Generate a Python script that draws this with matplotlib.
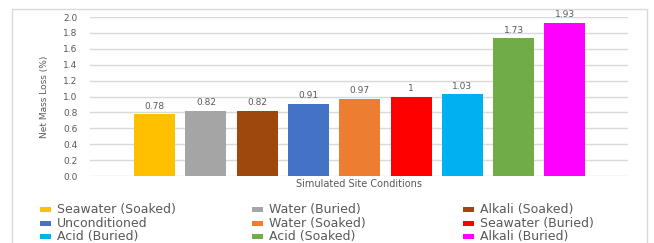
import numpy
import matplotlib
matplotlib.use("Agg")
from matplotlib import pyplot
from matplotlib.patches import Rectangle

# -----------------------------------------------------------------------------
conditions = ["Seawater (Soaked)", "Water (Buried)", "Alkali (Soaked)",
              "Unconditioned", "Water (Soaked)", "Seawater (Buried)",
              "Acid (Buried)", "Acid (Soaked)", "Alkali (Buried)"]
mass_loss = [0.78, 0.82, 0.82, 0.91, 0.97, 1.0, 1.03, 1.73, 1.93]
colors = ["#FFC000", "#A5A5A5", "#9E480E", "#4472C4", "#ED7D31",
          "#FF0000", "#00B0F0", "#70AD47", "#FF00FF"]
yticks = [0.0, 0.2, 0.4, 0.6, 0.8, 1.0, 1.2, 1.4, 1.6, 1.8, 2.0]

grey = "#595959"
fig = pyplot.figure(figsize=(6.54, 2.43), dpi=100, facecolor="w")

# outer chart border (continues below the crop)
fig.patches.append(Rectangle((0.0183, -0.2), 0.971, 1.163, transform=fig.transFigure,
                             fill=False, edgecolor="#D9D9D9", linewidth=1.0))

ax = fig.add_axes([0.1376, 0.2757, 0.8226, 0.6543])
x = numpy.arange(len(mass_loss))
bars = ax.bar(x, mass_loss, width=0.8, color=colors, zorder=2)
ax.bar_label(bars, labels=["%g" % v for v in mass_loss], padding=2.5,
             fontsize=6.5, color=grey)

ax.set_xlim(-1.26, 9.23)
ax.set_ylim(0, 2.0)
ax.set_yticks(yticks)
ax.set_yticklabels(["%.1f" % t for t in yticks])
ax.set_xticks([])
ax.grid(axis="y", color="#D9D9D9", linewidth=1.0, zorder=0)
for s in ax.spines.values():
    s.set_visible(False)
ax.tick_params(axis="y", length=0, pad=9, labelsize=6.5, labelcolor=grey)

ax.set_xlabel("Simulated Site Conditions", fontsize=7, color=grey, labelpad=2)
ax.set_ylabel("Net Mass Loss (%)", fontsize=6.5, color=grey, labelpad=10,
              family=["Liberation Sans Narrow", "DejaVu Sans"])

# legend laid out like the spreadsheet one: three equal columns, row-major
col_x = [40, 252, 463]
row_y = [209.5, 223.5, 236.5]
for i, (name, c) in enumerate(zip(conditions, colors)):
    r, k = divmod(i, 3)
    px = col_x[k] / 654.0
    py = 1 - row_y[r] / 243.0
    fig.patches.append(Rectangle((px, py - 2.2 / 243.0), 11 / 654.0, 4.5 / 243.0,
                                 transform=fig.transFigure, facecolor=c,
                                 edgecolor="none"))
    fig.text(px + 17 / 654.0, py, name, fontsize=9, color=grey,
             va="center", ha="left")

pyplot.savefig("out.png", dpi=100)
